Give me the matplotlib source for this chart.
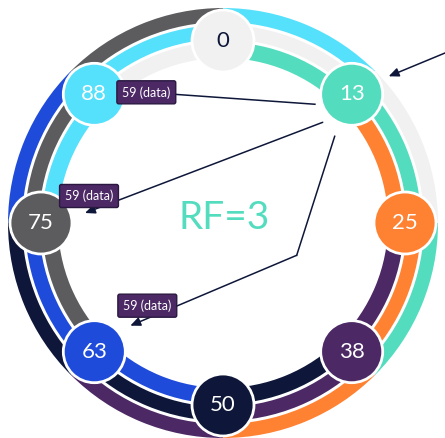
import numpy as np
import matplotlib

matplotlib.use("Agg")
import matplotlib.pyplot as plt
from matplotlib.patches import Wedge, Circle

# ---------- data ----------
TOKENS = [0, 13, 25, 38, 50, 63, 75, 88]
NODE_COLORS = ["#F1F1F1", "#53DDBE", "#FF8132", "#4C2865",
               "#0E1739", "#1F4BDB", "#5C5C5E", "#55E0FB"]
NODE_TEXT = ["#0E1739"] + ["white"] * 7
RF = 3
COORDINATOR = 13
REPLICAS = [88, 75, 63]
PAYLOAD = "59 (data)"

# ---------- style ----------
NAVY = "#0E1739"
TEAL = "#53DDBE"
BOX_FC = "#4C2865"
BOX_EC = "#2A1840"
ORBIT = 182
NODE_R = 31
BANDS = [(165, 181), (184, 198), (201, 215)]  # inner -> outer

plt.rcParams["font.family"] = ["Lato", "DejaVu Sans"]


def node_xy(token):
    i = TOKENS.index(token)
    a = np.deg2rad(90 - 45 * i)
    return np.array([ORBIT * np.cos(a), ORBIT * np.sin(a)])


def main():
    fig = plt.figure(figsize=(4.45, 4.38), dpi=100)
    ax = fig.add_axes([0, 0, 1, 1])
    ax.set_xlim(-223, 222)
    ax.set_ylim(-215, 223)
    ax.set_aspect("equal")
    ax.axis("off")

    n = len(TOKENS)
    step = 360 / n

    # replica rings: segment (i -> i+1) holds owner i+1 inside, then previous owners
    for i in range(n):
        t2 = 90 - step * i
        t1 = t2 - step
        for j in range(RF):
            r0, r1 = BANDS[j]
            col = NODE_COLORS[(i + 1 - j) % n]
            ax.add_patch(Wedge((0, 0), r1, t1, t2, width=r1 - r0,
                               facecolor=col, edgecolor="none", zorder=1))

    # nodes
    for tok, col, tcol in zip(TOKENS, NODE_COLORS, NODE_TEXT):
        x, y = node_xy(tok)
        ax.add_patch(Circle((x, y), NODE_R, facecolor=col, edgecolor="white",
                            linewidth=2, zorder=3))
        ax.text(x, y, str(tok), ha="center", va="center", fontsize=16,
                color=tcol, zorder=4)

    ax.text(1, 5, f"RF={RF}", ha="center", va="center", fontsize=28,
            color=TEAL, zorder=4)

    c = node_xy(COORDINATOR)
    arrow = dict(arrowstyle="-|>,head_length=0.5,head_width=0.22", color=NAVY,
                 lw=1.1, shrinkA=0, shrinkB=0, mutation_scale=12)

    # callout boxes next to each replica
    box_offsets = [(52, 2), (48, 27), (53, 46)]
    boxes = [node_xy(r) + np.array(o) for r, o in zip(REPLICAS, box_offsets)]
    for b in boxes:
        ax.text(b[0], b[1], PAYLOAD, ha="center", va="center", fontsize=9,
                color="white", zorder=6,
                bbox=dict(boxstyle="round,pad=0.42,rounding_size=0.15",
                          fc=BOX_FC, ec=BOX_EC, lw=1))

    # coordinator -> first replica (plain line into the box)
    s1 = c + np.array([-36, -10])
    ax.plot([s1[0], boxes[0][0]], [s1[1], boxes[0][1]], color=NAVY, lw=1.1,
            zorder=5, solid_capstyle="butt")

    # coordinator -> second replica
    s2 = c + np.array([-29, -28])
    e2 = node_xy(REPLICAS[1]) + np.array([44, 10])
    ax.annotate("", xy=e2, xytext=s2, arrowprops=arrow, zorder=5)

    # coordinator -> third replica (bent)
    s3 = c + np.array([-17, -42])
    k3 = c + np.array([-55, -161])
    e3 = node_xy(REPLICAS[2]) + np.array([36, 26])
    ax.plot([s3[0], k3[0]], [s3[1], k3[1]], color=NAVY, lw=1.1, zorder=5)
    ax.annotate("", xy=e3, xytext=k3, arrowprops=arrow, zorder=5)

    # client request into coordinator
    s4 = c + np.array([95, 42])
    e4 = c + np.array([37, 18])
    ax.annotate("", xy=e4, xytext=s4, arrowprops=arrow, zorder=5)

    fig.savefig("out.png", dpi=100)


if __name__ == "__main__":
    main()
